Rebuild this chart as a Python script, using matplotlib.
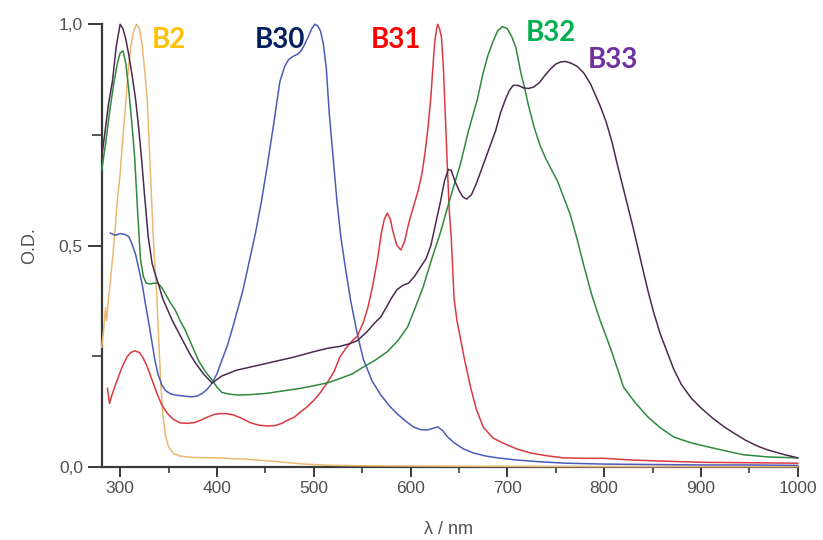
import matplotlib
matplotlib.use("Agg")
import matplotlib.pyplot as plt
from matplotlib.ticker import MultipleLocator, FuncFormatter

# Absorption spectra (wavelength in nm, optical density normalised)
wl_b2 = [281, 283, 285, 286, 287, 288, 290, 293, 295, 297,
         300, 302, 305, 308, 311, 314, 317, 320, 323, 326,
         328, 331, 334, 336, 338, 340, 342, 344, 347, 350,
         355, 362, 375, 400, 430, 460, 490, 520, 560, 650,
         800, 1000]
od_b2 = [0.27, 0.31, 0.36, 0.33, 0.35, 0.38, 0.42, 0.49, 0.54, 0.60,
         0.66, 0.72, 0.80, 0.885, 0.95, 0.985, 1.0, 0.99, 0.95, 0.88,
         0.83, 0.68, 0.53, 0.45, 0.38, 0.28, 0.19, 0.12, 0.07, 0.045,
         0.03, 0.024, 0.021, 0.02, 0.017, 0.012, 0.006, 0.003, 0.002, 0.001,
         0.0, 0.0]

wl_b30 = [290, 295, 300, 305, 309, 312, 316, 319, 323, 326,
          330, 333, 336, 339, 343, 347, 352, 357, 365, 374,
          380, 385, 390, 395, 400, 405, 411, 417, 422, 427,
          434, 440, 446, 452, 459, 465, 470, 474, 479, 483,
          487, 490, 494, 498, 501, 504, 507, 510, 513, 516,
          520, 524, 528, 532, 538, 545, 551, 560, 569, 578,
          586, 595, 603, 610, 617, 622, 628, 633, 638, 645,
          655, 665, 678, 690, 710, 735, 760, 800, 850, 900,
          950, 1000]
od_b30 = [0.528, 0.523, 0.527, 0.525, 0.52, 0.505, 0.48, 0.45, 0.41, 0.37,
          0.32, 0.28, 0.24, 0.21, 0.185, 0.172, 0.165, 0.162, 0.16, 0.158,
          0.16, 0.166, 0.175, 0.189, 0.21, 0.24, 0.275, 0.32, 0.36, 0.40,
          0.47, 0.53, 0.60, 0.68, 0.78, 0.87, 0.905, 0.92, 0.928, 0.932,
          0.94, 0.952, 0.97, 0.99, 1.0, 0.997, 0.985, 0.955, 0.90, 0.80,
          0.70, 0.60, 0.52, 0.46, 0.377, 0.30, 0.245, 0.195, 0.163, 0.138,
          0.12, 0.103, 0.09, 0.084, 0.083, 0.086, 0.09, 0.082, 0.068, 0.054,
          0.04, 0.031, 0.024, 0.02, 0.015, 0.011, 0.008, 0.006, 0.005, 0.004,
          0.004, 0.003]

wl_b31 = [287, 289, 292, 297, 302, 307, 311, 315, 320, 324,
          328, 333, 338, 343, 349, 355, 362, 370, 377, 383,
          390, 397, 403, 410, 417, 425, 434, 443, 452, 460,
          467, 473, 480, 487, 493, 500, 507, 514, 521, 527,
          534, 540, 545, 551, 556, 561, 566, 570, 573, 576,
          579, 582, 586, 590, 594, 597, 600, 604, 608, 612,
          615, 618, 621, 623, 625, 627, 628, 630, 632, 634,
          636, 638, 640, 642, 645, 648, 652, 656, 662, 668,
          675, 685, 696, 710, 724, 740, 758, 780, 800, 830,
          870, 900, 950, 1000]
od_b31 = [0.177, 0.143, 0.165, 0.196, 0.225, 0.248, 0.258, 0.262, 0.258, 0.245,
          0.226, 0.196, 0.166, 0.14, 0.12, 0.107, 0.099, 0.098, 0.10, 0.105,
          0.112, 0.118, 0.12, 0.12, 0.117, 0.11, 0.10, 0.094, 0.092, 0.093,
          0.098, 0.105, 0.112, 0.125, 0.135, 0.15, 0.168, 0.19, 0.215, 0.248,
          0.27, 0.285, 0.295, 0.325, 0.36, 0.41, 0.47, 0.53, 0.56, 0.573,
          0.56, 0.53, 0.50, 0.49, 0.51, 0.54, 0.565, 0.595, 0.625, 0.665,
          0.71, 0.765, 0.835, 0.90, 0.96, 0.99, 1.0, 0.99, 0.97, 0.90,
          0.79, 0.68, 0.58, 0.52, 0.38, 0.33, 0.285, 0.24, 0.18, 0.13,
          0.09, 0.065, 0.053, 0.04, 0.031, 0.025, 0.02, 0.019, 0.019, 0.015,
          0.012, 0.01, 0.009, 0.008]

wl_b32 = [281, 285, 289, 293, 297, 300, 303, 306, 309, 312,
          315, 318, 321, 324, 327, 331, 335, 339, 343, 347,
          352, 357, 362, 367, 374, 381, 388, 395, 400, 405,
          413, 422, 435, 452, 470, 486, 500, 515, 528, 540,
          551, 563, 576, 587, 597, 605, 613, 622, 631, 640,
          651, 660, 669, 675, 680, 685, 690, 695, 700, 705,
          709, 714, 718, 722, 728, 734, 740, 746, 752, 758,
          765, 772, 779, 787, 796, 802, 807, 814, 820, 832,
          845, 858, 872, 890, 907, 925, 944, 970, 1000]
od_b32 = [0.67, 0.73, 0.80, 0.86, 0.91, 0.935, 0.94, 0.91, 0.85, 0.78,
          0.70, 0.58, 0.47, 0.43, 0.415, 0.413, 0.415, 0.415, 0.405, 0.39,
          0.37, 0.354, 0.33, 0.31, 0.275, 0.24, 0.215, 0.196, 0.18, 0.168,
          0.164, 0.162, 0.163, 0.166, 0.172, 0.177, 0.183, 0.19, 0.20, 0.21,
          0.225, 0.24, 0.26, 0.285, 0.316, 0.36, 0.406, 0.47, 0.53, 0.60,
          0.68, 0.76, 0.83, 0.89, 0.93, 0.96, 0.985, 0.995, 0.99, 0.97,
          0.946, 0.89, 0.855, 0.815, 0.765, 0.725, 0.695, 0.67, 0.645, 0.61,
          0.57, 0.515, 0.455, 0.39, 0.33, 0.295, 0.265, 0.22, 0.18, 0.145,
          0.113, 0.088, 0.067, 0.054, 0.045, 0.036, 0.027, 0.022, 0.02]

wl_b33 = [281, 284, 288, 292, 296, 300, 303, 306, 309, 312,
          316, 319, 322, 325, 329, 333, 336, 340, 344, 349,
          354, 360, 366, 372, 378, 386, 395, 405, 420, 440,
          460, 480, 500, 515, 527, 537, 545, 555, 563, 569,
          575, 580, 586, 592, 598, 604, 610, 616, 621, 626,
          631, 635, 639, 642, 646, 650, 654, 658, 663, 668,
          673, 678, 683, 688, 693, 698, 702, 706, 711, 717,
          722, 727, 733, 739, 745, 750, 755, 760, 766, 772,
          779, 786, 791, 796, 802, 808, 814, 822, 830, 838,
          845, 851, 858, 865, 872, 880, 890, 900, 912, 924,
          934, 946, 958, 969, 985, 1000]
od_b33 = [0.70, 0.75, 0.82, 0.87, 0.95, 1.0, 0.99, 0.965, 0.93, 0.89,
          0.83, 0.77, 0.70, 0.62, 0.52, 0.46, 0.437, 0.41, 0.38, 0.355,
          0.33, 0.305, 0.28, 0.255, 0.234, 0.21, 0.189, 0.205, 0.218, 0.228,
          0.238, 0.248, 0.26, 0.268, 0.272, 0.278, 0.285, 0.305, 0.325, 0.338,
          0.36, 0.38, 0.40, 0.41, 0.415, 0.43, 0.45, 0.47, 0.50, 0.55,
          0.60, 0.645, 0.672, 0.67, 0.645, 0.625, 0.61, 0.605, 0.615, 0.64,
          0.67, 0.70, 0.73, 0.76, 0.80, 0.83, 0.85, 0.862, 0.862, 0.856,
          0.855, 0.858, 0.868, 0.885, 0.90, 0.91, 0.915, 0.916, 0.912, 0.905,
          0.89, 0.865, 0.84, 0.815, 0.78, 0.735, 0.68, 0.61, 0.54, 0.465,
          0.40, 0.35, 0.30, 0.26, 0.22, 0.185, 0.155, 0.133, 0.11, 0.09,
          0.076, 0.06, 0.047, 0.038, 0.028, 0.02]

series = [
    ("B2", wl_b2, od_b2, "#EAB872"),
    ("B30", wl_b30, od_b30, "#4B5CB8"),
    ("B31", wl_b31, od_b31, "#D93A40"),
    ("B32", wl_b32, od_b32, "#2F8A3E"),
    ("B33", wl_b33, od_b33, "#4B2A4E"),
]

# Label text, colour and anchor (wavelength, O.D.)
label_names = ["B2", "B30", "B31", "B32", "B33"]
label_colors = ["#FFC000", "#002060", "#FF0000", "#00B050", "#7030A0"]
label_wl = [350, 465, 585, 745, 809]
label_od = [0.964, 0.964, 0.964, 0.98, 0.919]

fig = plt.figure(figsize=(8.23, 5.40), dpi=100)
ax = fig.add_axes([0.1236, 0.1357, 0.8457, 0.8193])

for name, wl, od, col in series:
    ax.plot(wl, od, color=col, lw=1.1, clip_on=False, zorder=3,
            solid_joinstyle="round")

ax.set_xlim(281, 1000)
ax.set_ylim(0, 1.0)

axis_col = "#3a3a3a"
for side in ("top", "right"):
    ax.spines[side].set_visible(False)
for side in ("left", "bottom"):
    ax.spines[side].set_color(axis_col)
    ax.spines[side].set_linewidth(1.6)

ax.xaxis.set_major_locator(MultipleLocator(100))
ax.xaxis.set_minor_locator(MultipleLocator(50))
ax.yaxis.set_major_locator(MultipleLocator(0.5))
ax.yaxis.set_minor_locator(MultipleLocator(0.25))
ax.yaxis.set_major_formatter(FuncFormatter(lambda v, p: f"{v:.1f}".replace(".", ",")))

tick_font = "Liberation Sans"
ax.tick_params(axis="both", which="major", direction="out", length=7, width=1.4,
               color=axis_col, labelsize=12.5, labelcolor="#505050")
ax.tick_params(axis="x", which="minor", direction="out", length=4, width=1.2, color=axis_col)
ax.tick_params(axis="y", which="minor", direction="out", length=7, width=1.2, color=axis_col)
ax.tick_params(axis="y", which="major", length=10)
for lab in ax.get_xticklabels() + ax.get_yticklabels():
    lab.set_fontfamily(tick_font)

fig.text(30 / 823, 1 - 246 / 540, "O.D.", rotation=90, ha="center", va="center",
         fontsize=13, color="#505050", family=tick_font)
fig.text(449 / 823, 1 - 529 / 540, "λ / nm", ha="center", va="center",
         fontsize=13, color="#505050", family=tick_font)

for name, col, x, y in zip(label_names, label_colors, label_wl, label_od):
    ax.text(x, y, name, color=col, fontsize=20, fontweight="bold", family="Lato",
            ha="center", va="center", clip_on=False, zorder=5)

fig.savefig("out.png", dpi=100, facecolor="white")
